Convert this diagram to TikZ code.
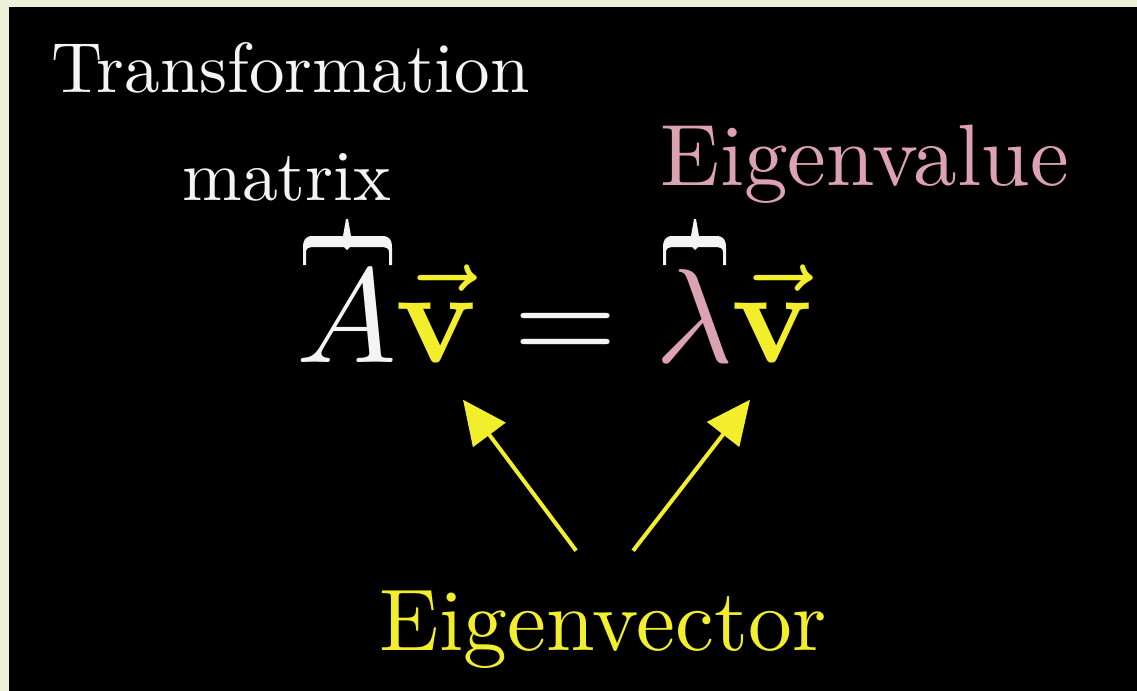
\documentclass[tikz,border=0pt]{standalone}
\usepackage{amsmath}
\usetikzlibrary{arrows.meta}
\definecolor{cream}{HTML}{EDF1D9}
\definecolor{ylw}{HTML}{F2EE2C}
\definecolor{pnk}{HTML}{DDA2B2}
\definecolor{wht}{HTML}{F4F4F4}
% brace shape: #1 left x, #2 right x, #3 tip x
\newcommand{\mybracefill}[3]{%
  \fill[wht] ({#1+10},236) -- ({#3-4},236) -- ({#3-1},219) -- ({#3+1},219) -- ({#3+4},236)
    -- ({#2-10},236) .. controls ({#2-2},236) and (#2,240) .. (#2,248) -- (#2,265)
    -- ({#2-3},265) -- ({#2-3},252) .. controls ({#2-3},248) and ({#2-6},247) .. ({#2-12},247)
    -- ({#3+3},247) -- (#3,250) -- ({#3-3},247) -- ({#1+12},247)
    .. controls ({#1+6},247) and ({#1+3},248) .. ({#1+3},252) -- ({#1+3},265) -- (#1,265)
    -- (#1,248) .. controls (#1,240) and ({#1+2},236) .. ({#1+10},236) -- cycle;}
\begin{document}
\begin{tikzpicture}[x=0.5pt,y=-0.5pt,
  lbl/.style={inner sep=0pt, anchor=base west, font=\normalfont},
  eqpart/.style={inner sep=0pt, anchor=base, font=\normalfont, scale=6.7},
  ptr/.style={draw=ylw, fill=ylw, line width=2pt, -{Triangle[length=22pt,width=20pt]}}]
\fill[cream] (0,0) rectangle (1137,691);
\fill[black] (9,7) rectangle (1137,691);
\useasboundingbox (0,0) rectangle (1137,691);
\node[lbl, text=wht, scale=3.55] (tr) at (50,92) {Transformation};
\node[lbl, text=wht, scale=3.58] (mx) at (181,200) {matrix};
\node[lbl, text=pnk, scale=4.36] (evl) at (659,185) {Eigenvalue};
\node[lbl, text=ylw, scale=4.38] (evc) at (378,650) {Eigenvector};
\node[eqpart, text=wht] (A) at (347,362) {$A$};
\node[eqpart, text=ylw] (v1) at (437,362) {$\vec{\mathbf{v}}$};
\node[eqpart, text=wht] (eqs) at (566,362) {$=$};
\node[eqpart, text=pnk] (lam) at (695,362) {$\lambda$};
\node[eqpart, text=ylw] (v2) at (773,362) {$\vec{\mathbf{v}}$};
\mybracefill{303}{392}{347}
\mybracefill{663}{726}{695}
\draw[ptr] ([shift={(-27,-38)}]evc.north) -- ([shift={(26,35)}]v1.south);
\draw[ptr] ([shift={(30,-38)}]evc.north) -- ([shift={(-23,35)}]v2.south);
\end{tikzpicture}
\end{document}
